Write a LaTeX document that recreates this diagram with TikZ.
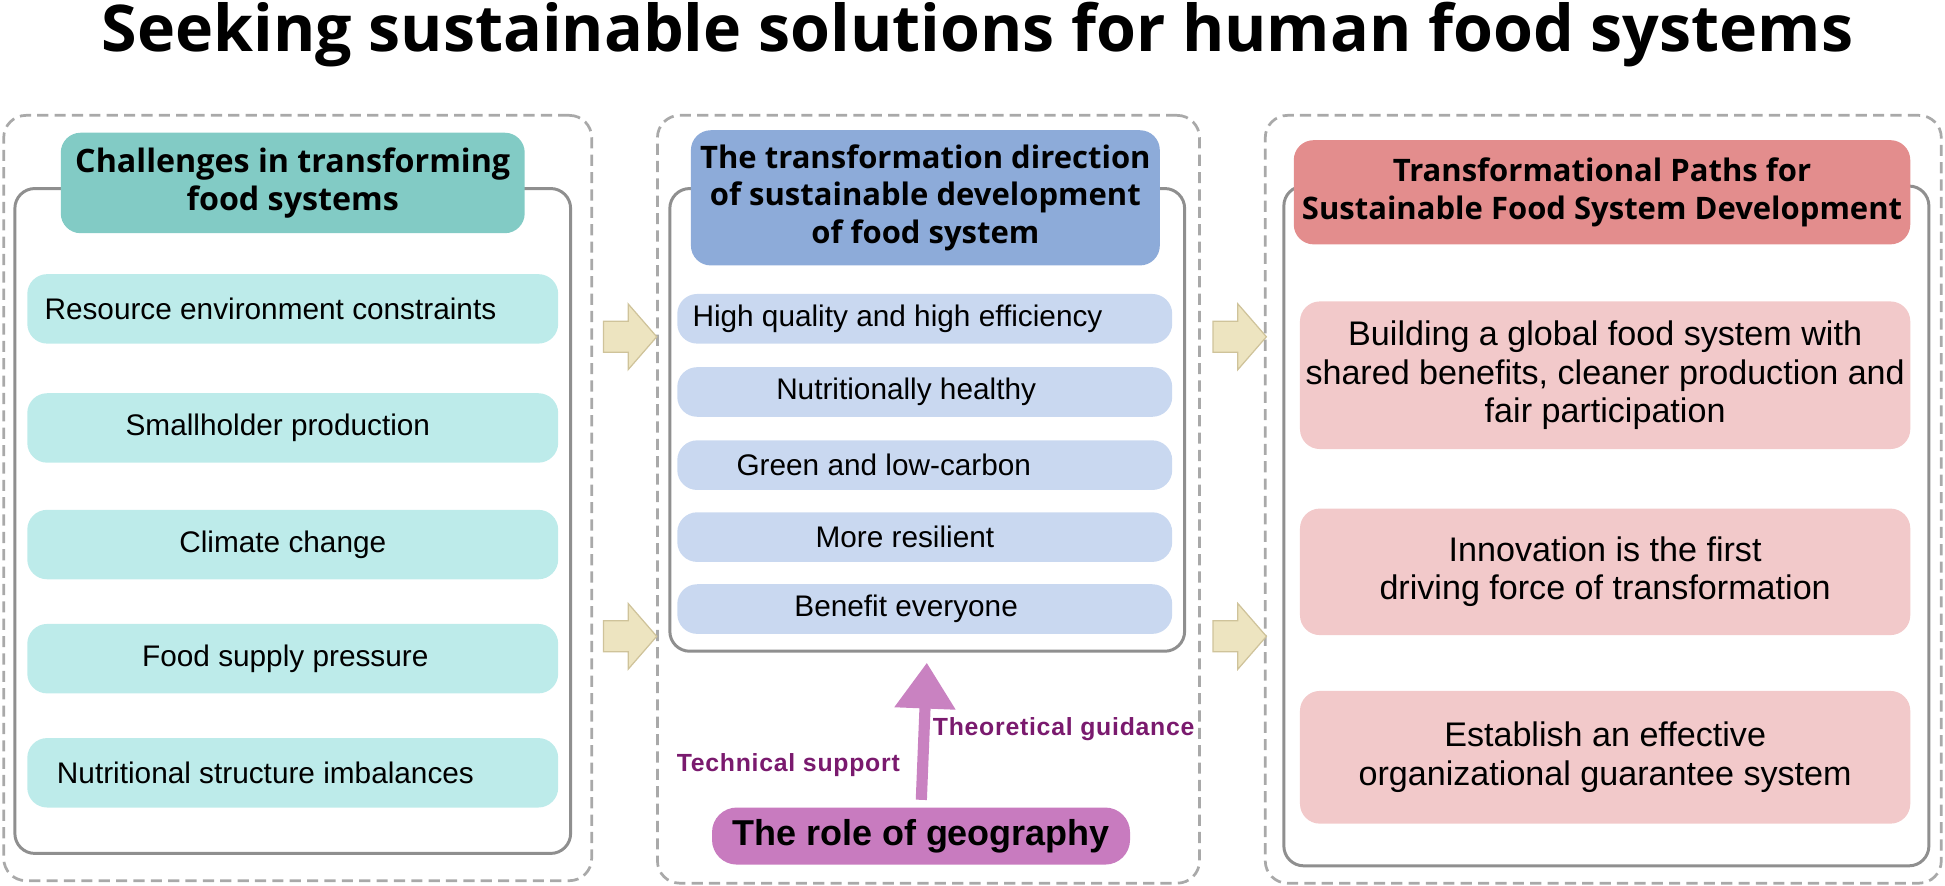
\documentclass[tikz,border=0pt]{standalone}
\usepackage{fontspec}
\setmainfont{Liberation Sans}
\newfontfamily\hfont{Open Sans}
\usetikzlibrary{shapes.arrows,arrows.meta}
\definecolor{dashgray}{HTML}{A9A9A9}
\definecolor{boxgray}{HTML}{8F8F8F}
\definecolor{hteal}{HTML}{82CBC5}
\definecolor{lcyan}{HTML}{BDEBEA}
\definecolor{hblue}{HTML}{8DABD9}
\definecolor{lblue}{HTML}{C9D8F0}
\definecolor{hred}{HTML}{E38D8D}
\definecolor{lpink}{HTML}{F2C9CA}
\definecolor{afill}{HTML}{EDE4C0}
\definecolor{aedge}{HTML}{CFC39A}
\definecolor{rolefill}{HTML}{C87BBF}
\definecolor{parrowc}{HTML}{C982C1}
\definecolor{ptext}{HTML}{7A1A6E}
\begin{document}
\begin{tikzpicture}[x=1pt,y=-1pt,
  dashbox/.style={draw=dashgray, line width=2.2pt, dash pattern=on 9pt off 5pt, rounded corners=18pt, inner sep=0pt},
  graybox/.style={draw=boxgray, line width=2.4pt, rounded corners=16pt, inner sep=0pt},
  head/.style={rounded corners=16pt, inner sep=0pt, align=center, font=\hfont\bfseries\fontsize{25}{30}\selectfont},
  item/.style={rounded corners=16pt, inner sep=0pt, align=center},
  litem/.style={item, fill=lcyan, minimum width=428pt, minimum height=56pt, font=\fontsize{24}{28}\selectfont},
  mitem/.style={item, fill=lblue, minimum width=399pt, minimum height=40pt, font=\fontsize{24}{28}\selectfont},
  ritem/.style={item, fill=lpink, minimum width=492pt, font=\fontsize{27.5}{31}\selectfont},
  tshift/.style={execute at begin node={\hspace*{#1}}},
  barrow/.style={single arrow, fill=afill, draw=aedge, line width=1pt, inner sep=12pt, minimum height=43pt, single arrow head extend=14pt, single arrow tip angle=98},
  plabel/.style={text=ptext, font=\bfseries\addfontfeature{LetterSpace=3}\fontsize{20}{24}\selectfont, inner sep=0pt}
]
\useasboundingbox (0,0) rectangle (1568,714);

% title
\node[font=\hfont\bfseries\fontsize{52}{56}\selectfont, inner sep=0pt] (title) at (788,28) {Seeking sustainable solutions for human food systems};

% outer dashed frames
\node[dashbox, minimum width=474pt, minimum height=617pt] (d1) at (240,401.5) {};
\node[dashbox, minimum width=437pt, minimum height=619pt] (d2) at (748.5,402.5) {};
\node[dashbox, minimum width=545pt, minimum height=619pt] (d3) at (1292.5,402.5) {};

% gray frames
\node[graybox, minimum width=448pt, minimum height=536pt] (g1) at (236,420) {};
\node[graybox, minimum width=415pt, minimum height=373pt] (g2) at (747.5,338.5) {};
\node[graybox, minimum width=520pt, minimum height=548pt] (g3) at (1295,424) {};

% headers
\node[head, fill=hteal, minimum width=374pt, minimum height=81pt, font=\hfont\bfseries\fontsize{26}{31}\selectfont] (h1) at (236,147.5) {Challenges in transforming\\food systems};
\node[head, fill=hblue, minimum width=378pt, minimum height=109pt] (h2) at (746,159.5) {The transformation direction\\of sustainable development\\of food system};
\node[head, fill=hred, minimum width=497pt, minimum height=84pt] (h3) at (1291.5,155) {Transformational Paths for\\Sustainable Food System Development};

% left items
\node[litem, tshift=-36pt] (l1) at (236,249) {Resource environment constraints};
\node[litem, tshift=-24pt] (l2) at (236,345) {Smallholder production};
\node[litem, tshift=-16pt] (l3) at (236,439) {Climate change};
\node[litem, tshift=-12pt] (l4) at (236,531) {Food supply pressure};
\node[litem, tshift=-44pt] (l5) at (236,623) {Nutritional structure imbalances};

% middle items
\node[mitem, tshift=-44pt] (m1) at (745.5,257) {High quality and high efficiency};
\node[mitem, tshift=-30pt] (m2) at (745.5,316) {Nutritionally healthy};
\node[mitem, tshift=-66pt] (m3) at (745.5,375) {Green and low-carbon};
\node[mitem, tshift=-32pt] (m4) at (745.5,433) {More resilient};
\node[mitem, tshift=-30pt] (m5) at (745.5,491) {Benefit everyone};

% right items
\node[ritem, minimum height=119pt] (r1) at (1294,302.5) {Building a global food system with\\shared benefits, cleaner production and\\fair participation};
\node[ritem, minimum height=102pt] (r2) at (1294,461) {Innovation is the first\\driving force of transformation};
\node[ritem, minimum height=107pt] (r3) at (1294,610.5) {Establish an effective\\organizational guarantee system};

% block arrows
\node[barrow] (a1) at (502.5,271.5) {};
\node[barrow] (a2) at (502.5,513) {};
\node[barrow] (a3) at (994,271.5) {};
\node[barrow] (a4) at (994,513) {};

% role of geography
\node[fill=rolefill, rounded corners=20pt, minimum width=337pt, minimum height=46pt, inner sep=0pt, font=\bfseries\fontsize{29}{32}\selectfont] (role) at (742.5,674) {The role of geography};
\draw[parrowc, line width=9pt, shorten <=6pt, shorten >=8pt, -{Triangle[width=47pt,length=37pt]}] (role.north) -- (g2.south);

\node[plabel] (theo) at (857.5,588) {Theoretical guidance};
\node[plabel] (tech) at (635.5,617) {Technical support};
\end{tikzpicture}
\end{document}
